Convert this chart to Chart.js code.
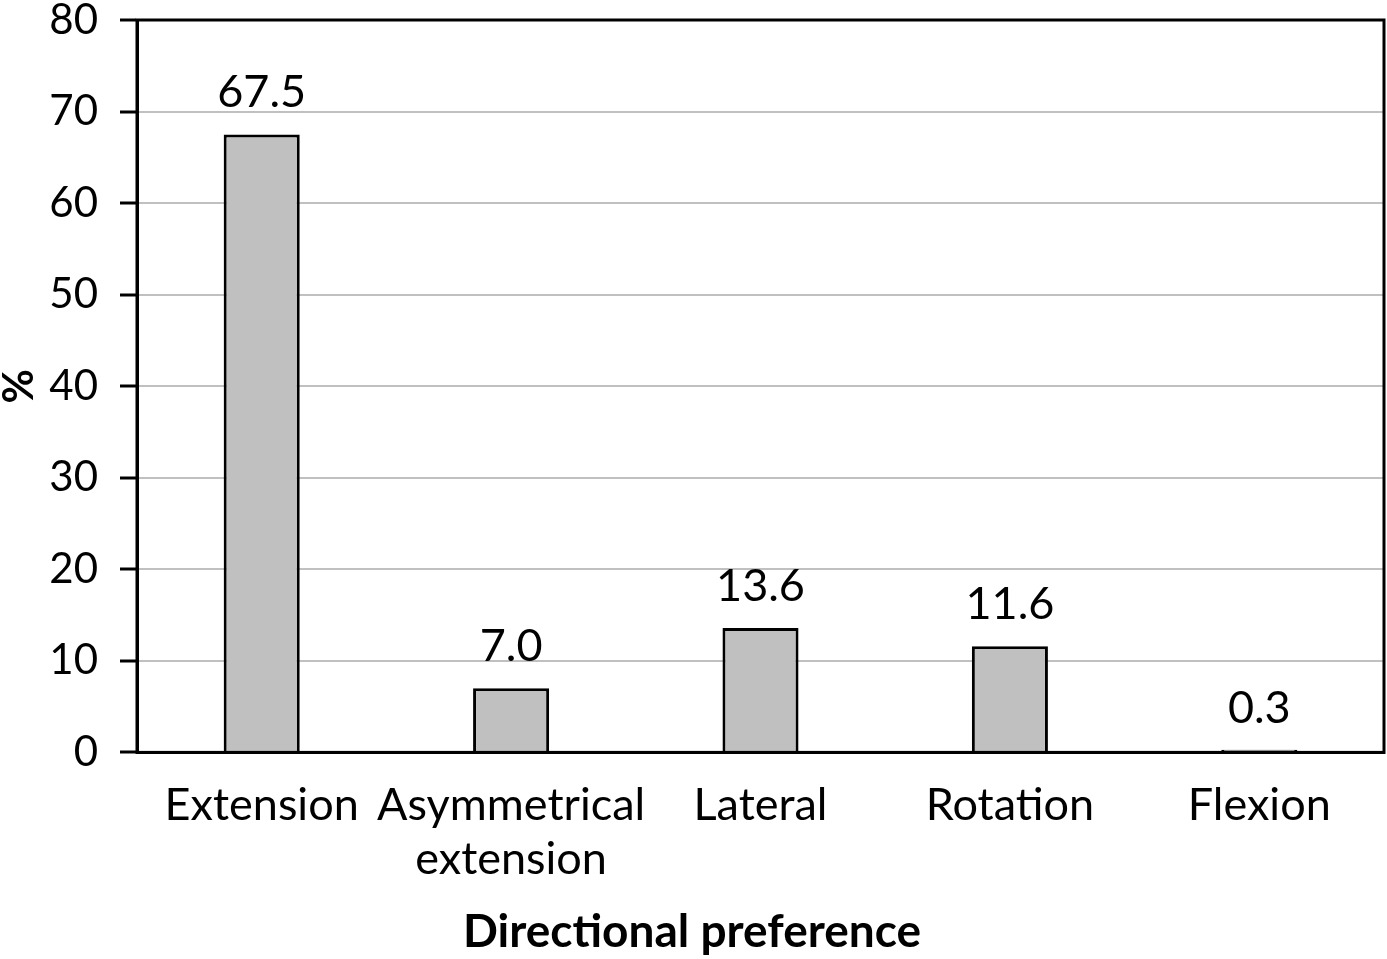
<!DOCTYPE html>
<html>
<head>
<meta charset="utf-8">
<script src="https://cdn.jsdelivr.net/npm/chart.js@4"></script>
<style>
  html, body { margin: 0; padding: 0; background: #fff; }
  #wrap { width: 1387px; height: 959px; }
</style>
</head>
<body>
<div id="wrap"><canvas id="prefChart"></canvas></div>
<script>
// data
// (\u200C stops Lato from joining "ti" into a ligature)
const categories = ['Extension', ['Asymmetrical', 'extension'], 'Lateral', 'Rota\u200Ction', 'Flexion'];
const percents = [67.5, 7.0, 13.6, 11.6, 0.3];
const yTicks = [0, 10, 20, 30, 40, 50, 60, 70, 80];

Chart.defaults.font.family = 'Lato, "Open Sans", sans-serif';
Chart.defaults.color = '#000';

// value labels above each bar
const valueLabels = {
    id: 'valueLabels',
    afterDatasetsDraw(chart) {
        const ctx = chart.ctx;
        const meta = chart.getDatasetMeta(0);
        ctx.save();
        ctx.font = '45px Lato, sans-serif';
        ctx.fillStyle = '#000';
        ctx.textAlign = 'center';
        ctx.textBaseline = 'alphabetic';
        meta.data.forEach((bar, i) => {
            ctx.fillText(percents[i].toFixed(1), bar.x, bar.y - 27);
        });
        ctx.restore();
    }
};

// black frame round the plot area
const frame = {
    id: 'frame',
    afterDatasetsDraw(chart) {
        const a = chart.chartArea;
        const ctx = chart.ctx;
        ctx.save();
        ctx.strokeStyle = '#000';
        ctx.lineWidth = 3;
        ctx.strokeRect(a.left, a.top, a.right - a.left, a.bottom - a.top);
        ctx.restore();
    }
};

const prefCtx = document.getElementById('prefChart').getContext('2d');
const prefChart = new Chart(prefCtx, {
    type: 'bar',
    data: {
        labels: categories,
        datasets: [{
            data: percents,
            backgroundColor: '#c0c0c0',
            borderColor: '#000',
            borderWidth: 3,
            categoryPercentage: 1,
            barPercentage: 0.305
        }]
    },
    options: {
        responsive: true,
        maintainAspectRatio: false,
        animation: false,
        layout: { padding: { top: 20, right: 3, left: 0, bottom: 2 } },
        plugins: {
            legend: { display: false },
            tooltip: { enabled: false },
            title: {
                display: true,
                position: 'bottom',
                text: 'Direc\u200Ctional preference',
                font: { size: 46, weight: 'bold', lineHeight: 1.1 },
                padding: { top: 0, bottom: 0 }
            }
        },
        scales: {
            x: {
                grid: { display: false, drawTicks: false },
                border: { color: '#000', width: 3 },
                ticks: { font: { size: 45, lineHeight: 1.2 }, padding: 26, maxRotation: 0, autoSkip: false },
                afterFit: s => { s.height = 154; }
            },
            y: {
                min: 0,
                max: 80,
                afterBuildTicks: s => { s.ticks = yTicks.map(v => ({ value: v })); },
                grid: { color: '#c0c0c0', lineWidth: 2, tickColor: '#000', tickLength: 17, tickWidth: 3 },
                border: { color: '#000', width: 3 },
                ticks: { font: { size: 42 }, padding: 22 },
                title: { display: true, text: '%', font: { size: 42, weight: 'bold' }, padding: { top: -6, bottom: 0 } },
                afterFit: s => { s.width = 137; s.paddingTop = 0; s.paddingBottom = 0; }
            }
        }
    },
    plugins: [valueLabels, frame]
});
</script>
</body>
</html>
